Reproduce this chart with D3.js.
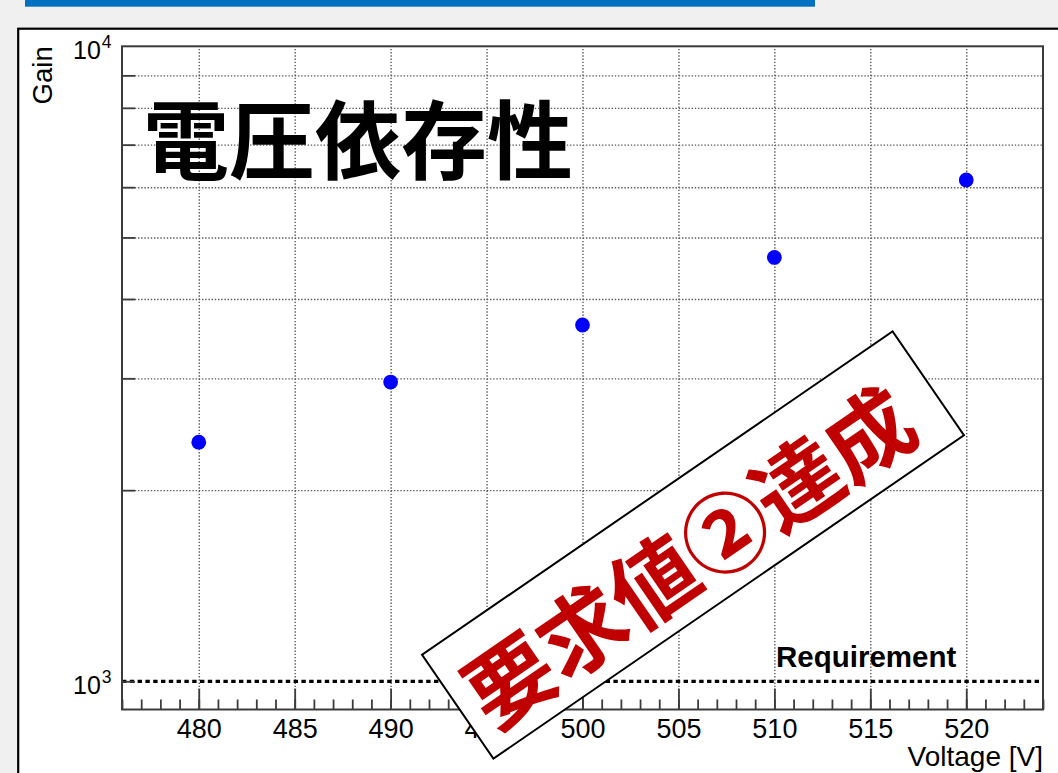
<!DOCTYPE html>
<html>
<head>
<meta charset="utf-8">
<script src="https://cdn.jsdelivr.net/npm/d3@7"></script>
<style>
  html, body { margin: 0; padding: 0; background: #f0f0f0; }
  svg { display: block; }
</style>
</head>
<body>
<svg id="chart" width="1058" height="773"></svg>
<script>
// Gain vs. bias voltage
const voltages = [480, 490, 500, 510, 520];
const gains = [2380, 2960, 3640, 4650, 6160];
const requirement = 1000;
const requirementLabel = "Requirement";
const xMajorTicks = [480, 485, 490, 495, 500, 505, 510, 515, 520];
const yGridTicks = [2000, 3000, 4000, 5000, 6000, 7000, 8000, 9000];
const yLabelExponents = [3, 4];
const title = "電圧依存性";
const stampText = "要求値②達成";
const xTitle = "Voltage [V]";
const yTitle = "Gain";

const svg = d3.select("#chart");
const W = 1058, H = 773;
const plot = { left: 122, right: 1043, top: 46.3, bottom: 709.5 };
const sans = "'Liberation Sans', Arial, Helvetica, sans-serif";
const cjk = "'Noto Sans CJK JP', 'Noto Sans CJK SC', sans-serif";

// page header bar and panel
svg.append("rect").attr("x", 0).attr("y", 0).attr("width", W).attr("height", H).attr("fill", "#f0f0f0");
svg.append("rect").attr("x", 25).attr("y", 0).attr("width", 790).attr("height", 6.7).attr("fill", "#0070c0");
svg.append("rect").attr("x", 18.2).attr("y", 28.7).attr("width", 1100).attr("height", 900)
  .attr("fill", "#ffffff").attr("stroke", "#000").attr("stroke-width", 2.2);

const x = d3.scaleLinear().domain([476, 524]).range([plot.left, plot.right]);
const yMin = Math.pow(10, 2.9556);
const y = d3.scaleLog().domain([yMin, 10000]).range([plot.bottom, plot.top]);

const plotH = plot.bottom - plot.top;
const plotW = plot.right - plot.left;

// dotted grid
const gridX = svg.append("g").attr("transform", `translate(0,${plot.bottom})`)
  .call(d3.axisBottom(x).tickValues(xMajorTicks).tickSize(-plotH).tickFormat(""));
const gridY = svg.append("g").attr("transform", `translate(${plot.left},0)`)
  .call(d3.axisLeft(y).tickValues(yGridTicks).tickSize(-plotW).tickFormat(""));
[gridX, gridY].forEach(g => {
  g.select(".domain").remove();
  g.selectAll("line").attr("stroke", "#5a5a5a").attr("stroke-width", 1.4).attr("stroke-dasharray", "1.4,1.8");
});

// requirement line
svg.append("line")
  .attr("x1", plot.left).attr("x2", plot.right)
  .attr("y1", y(requirement)).attr("y2", y(requirement))
  .attr("stroke", "#000").attr("stroke-width", 3.2).attr("stroke-dasharray", "4.4,3.4");
svg.append("text")
  .attr("x", 776).attr("y", 667)
  .attr("font-family", sans).attr("font-weight", "bold").attr("font-size", 29.5)
  .attr("fill", "#000").text(requirementLabel);

// axes
const axisColor = "#3c3c3c";
const xMinor = svg.append("g").attr("transform", `translate(0,${plot.bottom})`)
  .call(d3.axisBottom(x).tickValues(d3.range(476, 525, 1)).tickSize(-10).tickFormat(""));
const xMajor = svg.append("g").attr("transform", `translate(0,${plot.bottom})`)
  .call(d3.axisBottom(x).tickValues(xMajorTicks).tickSize(-21).tickPadding(9).tickFormat(d3.format("d")));
xMajor.selectAll("text").attr("font-family", sans).attr("font-size", 27).attr("fill", "#000");
const yTicks = svg.append("g").attr("transform", `translate(${plot.left},0)`)
  .call(d3.axisLeft(y).tickValues([requirement].concat(yGridTicks)).tickSize(-13).tickFormat(""));
[xMinor, xMajor, yTicks].forEach(g => {
  g.select(".domain").remove();
  g.selectAll("line").attr("stroke", axisColor).attr("stroke-width", 1.8);
});

// frame
svg.append("rect")
  .attr("x", plot.left).attr("y", plot.top).attr("width", plotW).attr("height", plotH)
  .attr("fill", "none").attr("stroke", axisColor).attr("stroke-width", 2);

// y tick labels (powers of ten)
yLabelExponents.forEach(e => {
  const t = svg.append("text")
    .attr("x", 73).attr("y", y(Math.pow(10, e)) + 12.5)
    .attr("font-family", sans).attr("font-size", 25).attr("fill", "#000");
  t.append("tspan").text("10");
  t.append("tspan").attr("font-size", 17.5).attr("dy", -11).attr("dx", 1).text(e);
});

// axis titles
svg.append("text")
  .attr("text-anchor", "end").attr("x", plot.right).attr("y", 766)
  .attr("font-family", sans).attr("font-size", 28).attr("fill", "#000").text(xTitle);
svg.append("text")
  .attr("text-anchor", "end")
  .attr("transform", `translate(51.5,${plot.top}) rotate(-90)`)
  .attr("font-family", sans).attr("font-size", 27.5).attr("fill", "#000").text(yTitle);

// data points
svg.append("g").selectAll("circle").data(voltages).join("circle")
  .attr("cx", d => x(d)).attr("cy", (d, i) => y(gains[i]))
  .attr("r", 7.4).attr("fill", "#0000ff");

// title
svg.append("text")
  .attr("x", 143).attr("y", 173)
  .attr("font-family", cjk).attr("font-weight", "bold").attr("font-size", 86)
  .attr("fill", "#000").text(title);

// stamp
const stamp = svg.append("g").attr("transform", "translate(693,545) rotate(-34.5)");
stamp.append("rect")
  .attr("x", -285.5).attr("y", -63).attr("width", 571).attr("height", 126)
  .attr("fill", "#fff").attr("stroke", "#000").attr("stroke-width", 2);
stamp.append("text")
  .attr("x", -10).attr("y", 41)
  .attr("text-anchor", "middle")
  .attr("font-family", cjk).attr("font-weight", "bold").attr("font-size", 87)
  .attr("fill", "#c00000").text(stampText);
</script>
</body>
</html>
